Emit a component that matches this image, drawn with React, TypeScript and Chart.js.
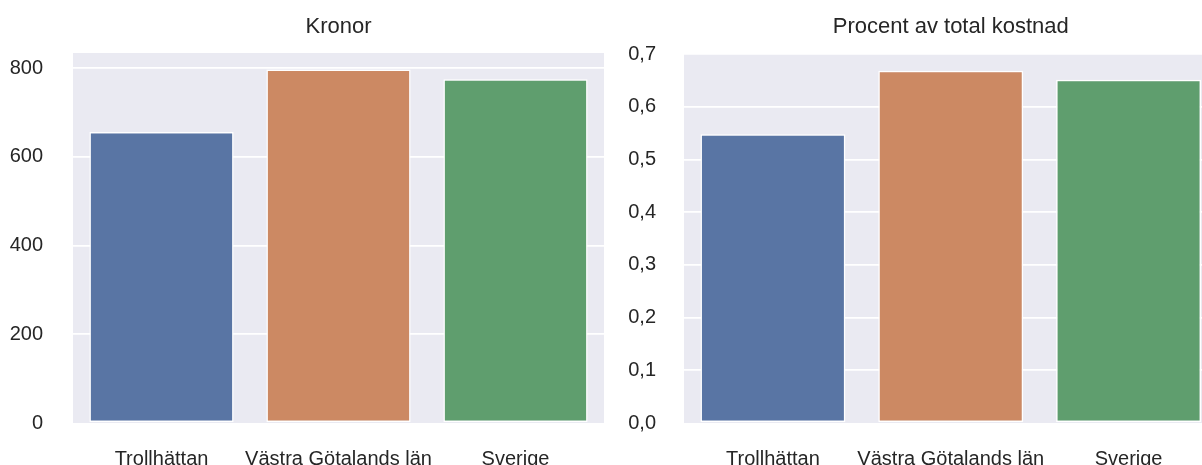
import React, { useEffect, useRef } from 'react';
import { Chart, registerables } from 'chart.js';

Chart.register(...registerables);

const categories = ['Trollhättan', 'Västra Götalands län', 'Sverige'];
const kronorValues = [656, 797, 775];
const procentValues = [0.548, 0.668, 0.651];
const barColors = ['#5975a4', '#cc8963', '#5f9e6e'];
const kronorTicks = [0, 200, 400, 600, 800];
const procentTicks = [0, 0.1, 0.2, 0.3, 0.4, 0.5, 0.6, 0.7];
const kronorTitle = 'Kronor';
const procentTitle = 'Procent av total kostnad';

const FONT = '"Liberation Sans", Arial, Helvetica, sans-serif';
const TEXT = '#262626';
const BG = '#eaeaf2';

type PanelProps = {
  left: number;
  width: number;
  height: number;
  title: string;
  values: number[];
  ticks: number[];
  yMax: number;
  fmt: (v: number) => string;
  padTop: number;
  padRight: number;
  yAxisWidth: number;
  yPad: number;
  plotBottom: number;
};

function Panel(p: PanelProps) {
  const ref = useRef<HTMLCanvasElement | null>(null);
  useEffect(() => {
    if (!ref.current) return;
    const bgPlugin = {
      id: 'panelBg',
      beforeDraw(chart: any) {
        const { ctx, chartArea } = chart;
        ctx.save();
        ctx.fillStyle = BG;
        ctx.fillRect(chartArea.left, chartArea.top, chartArea.right - chartArea.left, chartArea.bottom - chartArea.top);
        ctx.restore();
      },
    };
    const titlePlugin = {
      id: 'panelTitle',
      afterDraw(chart: any) {
        const { ctx, chartArea } = chart;
        ctx.save();
        ctx.font = `22px ${FONT}`;
        ctx.fillStyle = TEXT;
        ctx.textAlign = 'center';
        ctx.textBaseline = 'alphabetic';
        ctx.fillText(p.title, (chartArea.left + chartArea.right) / 2, 33);
        ctx.restore();
      },
    };
    const chart = new Chart(ref.current, {
      type: 'bar',
      data: {
        labels: categories,
        datasets: [
          {
            data: p.values,
            backgroundColor: barColors,
            borderColor: '#ffffff',
            borderWidth: 1.5,
            borderSkipped: false,
            categoryPercentage: 0.815,
            barPercentage: 1,
          },
        ],
      },
      options: {
        animation: false,
        responsive: false,
        devicePixelRatio: 1,
        layout: { padding: { top: p.padTop, right: p.padRight, left: 0, bottom: 0 } },
        plugins: {
          legend: { display: false },
          tooltip: { enabled: false },
          title: { display: false },
        },
        scales: {
          x: {
            grid: { display: false, drawTicks: false },
            border: { display: false },
            ticks: {
              color: TEXT,
              font: { family: FONT, size: 20 },
              padding: 24,
              maxRotation: 0,
              autoSkip: false,
            },
            afterFit: (s: any) => {
              s.height = p.height - p.plotBottom;
            },
          },
          y: {
            min: 0,
            max: p.yMax,
            grid: {
              color: (c: any) => (c.tick && c.tick.value === 0 ? 'rgba(0,0,0,0)' : '#ffffff'),
              lineWidth: 1.8,
              drawTicks: false,
            },
            border: { display: false },
            ticks: {
              color: TEXT,
              font: { family: FONT, size: 20 },
              padding: p.yPad,
              includeBounds: false,
              callback: (v: any) => p.fmt(Number(v)),
            },
            afterBuildTicks: (s: any) => {
              s.ticks = p.ticks.map((v) => ({ value: v }));
            },
            afterFit: (s: any) => {
              s.width = p.yAxisWidth;
            },
          },
        },
      } as any,
      plugins: [bgPlugin, titlePlugin],
    });
    return () => chart.destroy();
  }, []);
  return (
    <canvas
      ref={ref}
      width={p.width}
      height={p.height}
      style={{ position: 'absolute', left: p.left, top: 0, width: p.width, height: p.height }}
    />
  );
}

export default function App() {
  return (
    <div
      style={{
        position: 'absolute',
        left: 0,
        top: 0,
        width: 1202,
        height: 465,
        overflow: 'hidden',
        background: '#ffffff',
      }}
    >
      <Panel
        left={0}
        width={615}
        height={485}
        title={kronorTitle}
        values={kronorValues}
        ticks={kronorTicks}
        yMax={834}
        fmt={(v) => String(Math.round(v))}
        padTop={53}
        padRight={11}
        yAxisWidth={73}
        yPad={30}
        plotBottom={423}
      />
      <Panel
        left={615}
        width={610}
        height={485}
        title={procentTitle}
        values={procentValues}
        ticks={procentTicks}
        yMax={0.7}
        fmt={(v) => v.toFixed(1).replace('.', ',')}
        padTop={54}
        padRight={7.5}
        yAxisWidth={69}
        yPad={28}
        plotBottom={423}
      />
    </div>
  );
}
